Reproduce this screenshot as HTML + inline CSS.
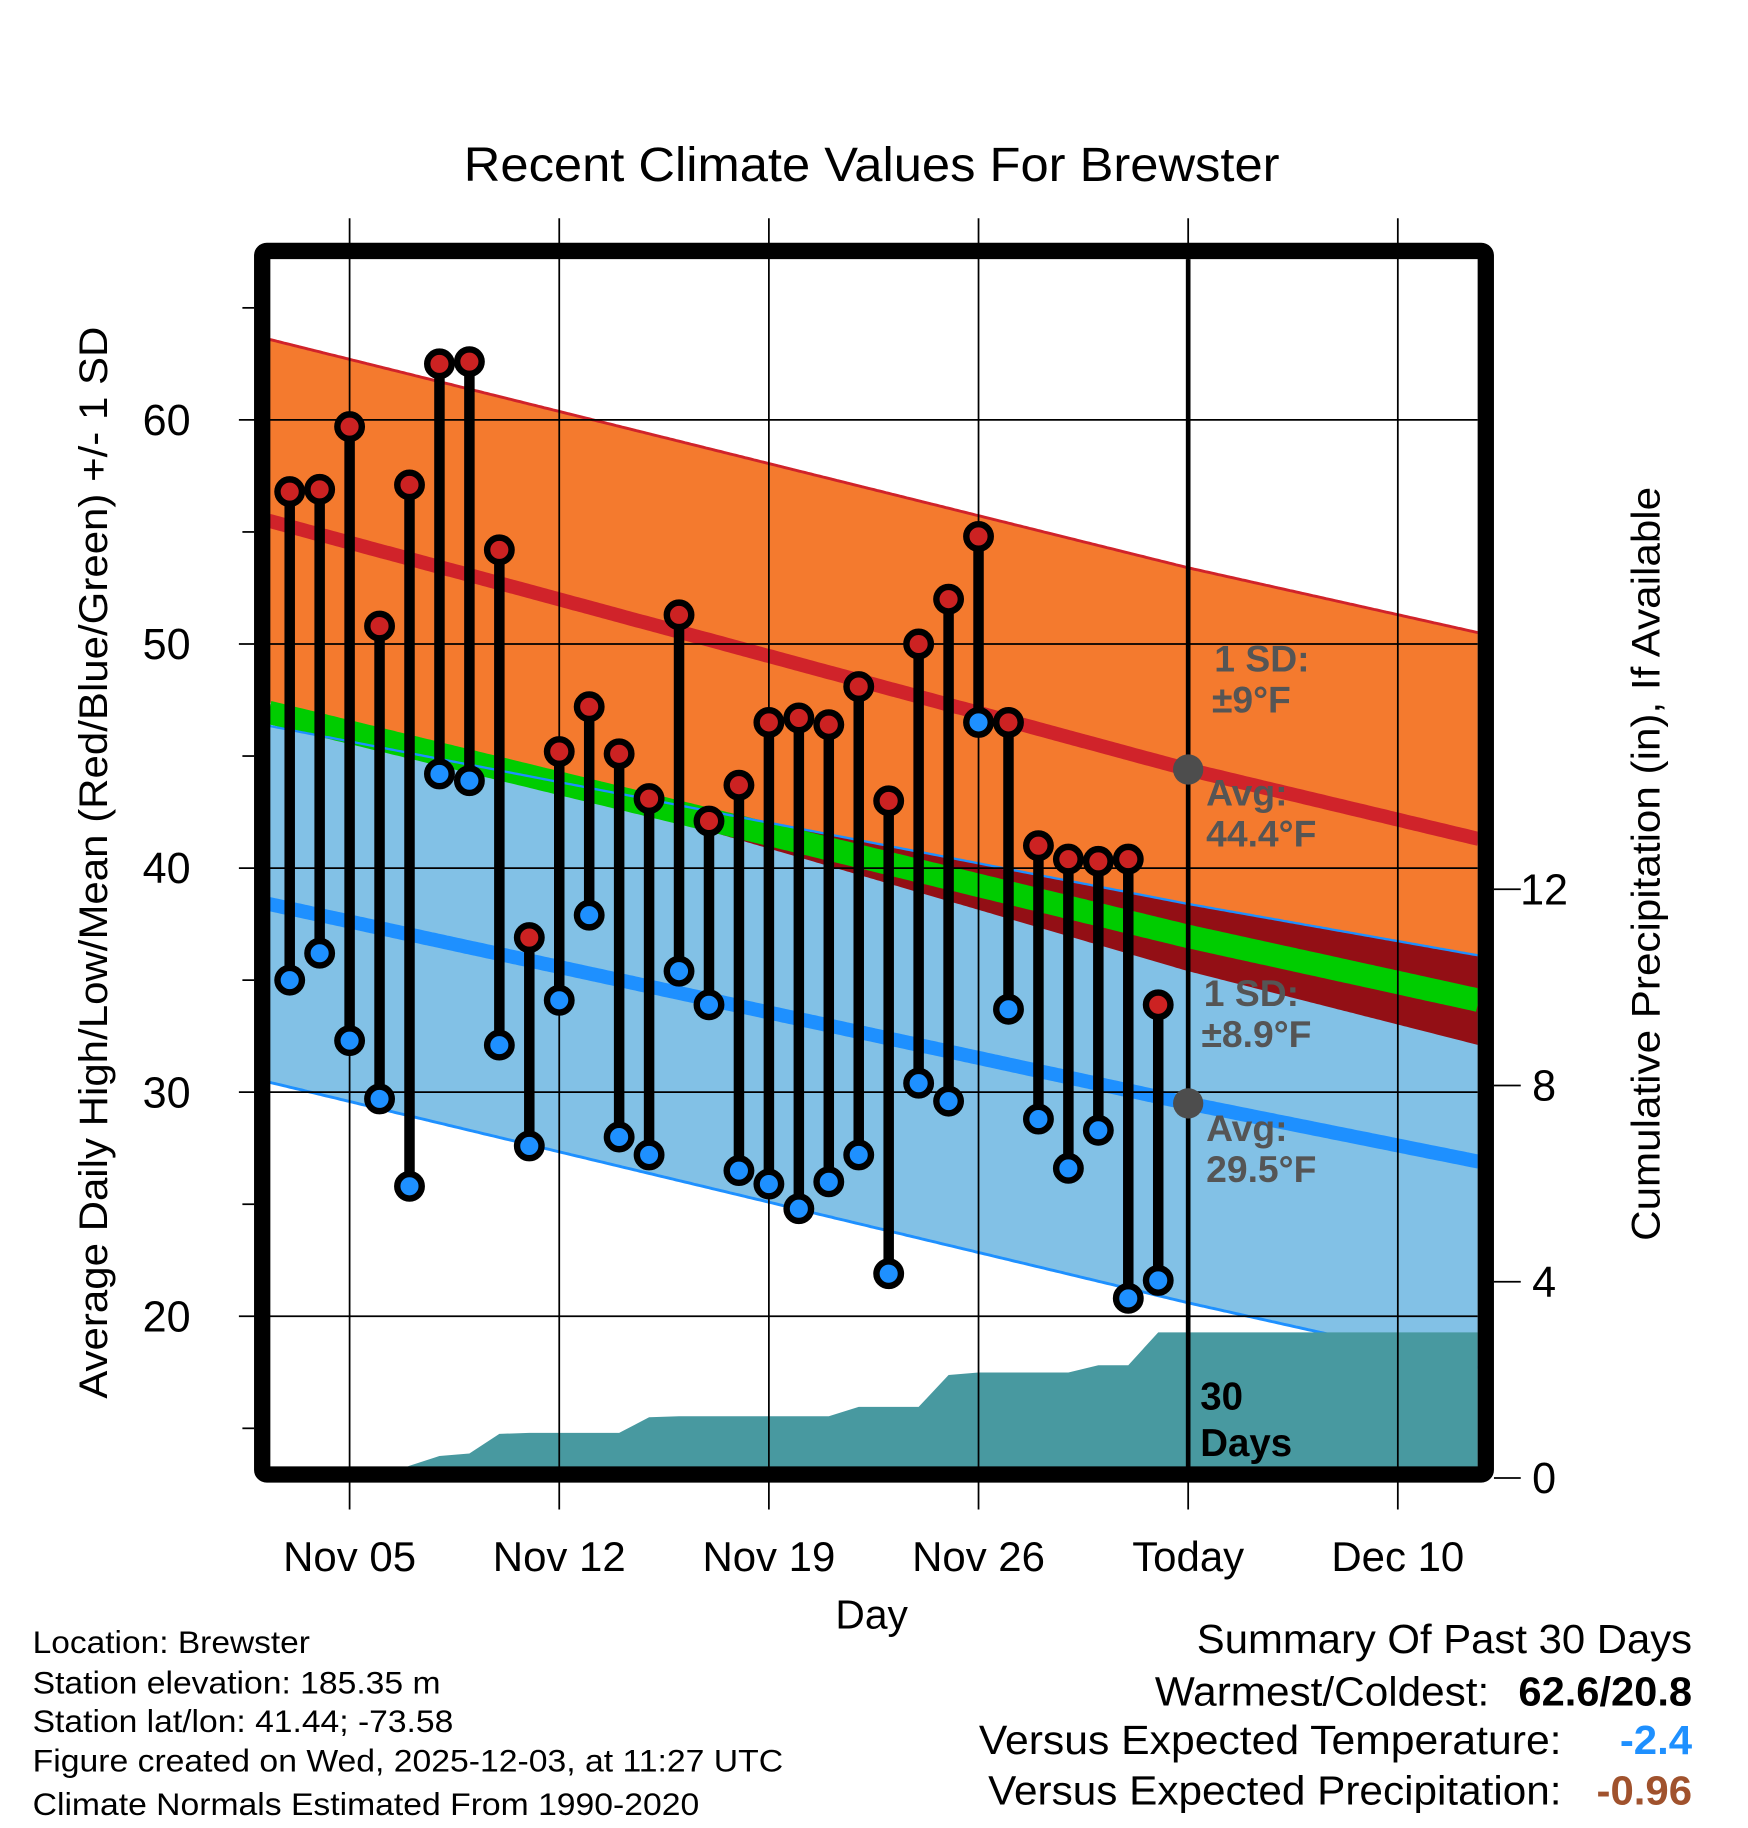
<!DOCTYPE html>
<html><head><meta charset="utf-8">
<style>
html,body{margin:0;padding:0;background:#fff;}
svg{display:block;font-family:"Liberation Sans",Arial,sans-serif;}
</style></head>
<body>
<svg id="chart" width="1748" height="1828" viewBox="0 0 1500 1568" xmlns="http://www.w3.org/2000/svg">
<rect x="0" y="0" width="1500" height="1568" fill="#fff"/>
<text x="748" y="155" font-size="41" text-anchor="middle" textLength="700" lengthAdjust="spacingAndGlyphs">Recent Climate Values For Brewster</text>
<defs><clipPath id="pc"><rect x="231" y="222" width="1037" height="1038"/></clipPath></defs>
<g id="plot" clip-path="url(#pc)"></g>
<g id="over"></g>
<text transform="translate(92,740) rotate(-90)" font-size="34" text-anchor="middle" textLength="920" lengthAdjust="spacingAndGlyphs">Average Daily High/Low/Mean (Red/Blue/Green) +/- 1 SD</text>
<text transform="translate(1424,741) rotate(-90)" font-size="34" text-anchor="middle" textLength="647" lengthAdjust="spacingAndGlyphs">Cumulative Precipitation (in), If Available</text>
<text x="748" y="1397" font-size="35" text-anchor="middle">Day</text>
<g font-size="27">
<text x="28" y="1418" textLength="238" lengthAdjust="spacingAndGlyphs">Location: Brewster</text>
<text x="28" y="1453" textLength="350" lengthAdjust="spacingAndGlyphs">Station elevation: 185.35 m</text>
<text x="28" y="1486" textLength="361" lengthAdjust="spacingAndGlyphs">Station lat/lon: 41.44; -73.58</text>
<text x="28" y="1520" textLength="644" lengthAdjust="spacingAndGlyphs">Figure created on Wed, 2025-12-03, at 11:27 UTC</text>
<text x="28" y="1557" textLength="572" lengthAdjust="spacingAndGlyphs">Climate Normals Estimated From 1990-2020</text>
</g>
<g font-size="35">
<text x="1027" y="1418" textLength="425" lengthAdjust="spacingAndGlyphs">Summary Of Past 30 Days</text>
<text x="991" y="1463" textLength="287" lengthAdjust="spacingAndGlyphs">Warmest/Coldest:</text>
<text x="1303" y="1463" font-weight="bold" textLength="149" lengthAdjust="spacingAndGlyphs">62.6/20.8</text>
<text x="840" y="1505" textLength="500" lengthAdjust="spacingAndGlyphs">Versus Expected Temperature:</text>
<text x="1390" y="1505" font-weight="bold" fill="#1e90ff" textLength="62" lengthAdjust="spacingAndGlyphs">-2.4</text>
<text x="848" y="1548" textLength="492" lengthAdjust="spacingAndGlyphs">Versus Expected Precipitation:</text>
<text x="1370" y="1548" font-weight="bold" fill="#a0522d" textLength="82" lengthAdjust="spacingAndGlyphs">-0.96</text>
</g>
</svg>
<script>
// ---- data ----
const dayLabels = ["Nov 05","Nov 12","Nov 19","Nov 26","Today","Dec 10"];
const tickDays = [4,11,18,25,32,39];
const yTicks = [20,30,40,50,60];
const y2Ticks = [0,4,8,12];
const obsDays = [2,3,4,5,6,7,8,9,10,11,12,13,14,15,16,17,18,19,20,21,22,23,24,25,26,27,28,29,30,31];
const highs = [56.8,56.9,59.7,50.8,57.1,62.5,62.6,54.2,36.9,45.2,47.2,45.1,43.1,51.3,42.1,43.7,46.5,46.7,46.4,48.1,43.0,50.0,52.0,54.8,46.5,41.0,40.4,40.3,40.4,33.9];
const lows = [35.0,36.2,32.3,29.7,25.8,44.2,43.9,32.1,27.6,34.1,37.9,28.0,27.2,35.4,33.9,26.5,25.9,24.8,26.0,27.2,21.9,30.4,29.6,46.5,33.7,28.8,26.6,28.3,20.8,21.6];
const precip = [0,0,0,0,0.25,0.45,0.5,0.9,0.92,0.92,0.92,0.92,1.24,1.26,1.26,1.26,1.26,1.26,1.26,1.45,1.45,1.45,2.1,2.15,2.15,2.15,2.15,2.3,2.3,2.97];
const normDays = [1.3,32,41.7];
const normHigh = [55.5,44.4,41.3];
const sdHigh = [8.1,9.0,9.2];
const normLow = [38.4,29.5,26.9];
const sdLow = [7.95,8.9,9.2];
// ---- scales ----
const X = d => 300 + (d-4)*25.7;
const Y = v => 360 + (60-v)*19.23;
const Y2 = p => 1268 - p*42.1;
const NS = "http://www.w3.org/2000/svg";
function mk(tag, attrs, parent){const e=document.createElementNS(NS,tag);for(const k in attrs)e.setAttribute(k,attrs[k]);parent.appendChild(e);return e;}
const svg=document.getElementById('chart'), plot=document.getElementById('plot'), over=document.getElementById('over');
function interp(arr,d){for(let i=0;i<normDays.length-1;i++){if(d<=normDays[i+1]||i==normDays.length-2){const t=(d-normDays[i])/(normDays[i+1]-normDays[i]);return arr[i]+t*(arr[i+1]-arr[i]);}}}
const samp=[];for(let d=1.3;d<=41.71;d+=0.1)samp.push(d);
const line=(f)=>samp.map(d=>[X(d),Y(f(d))]);
const pts=a=>a.map(p=>p[0].toFixed(1)+','+p[1].toFixed(1)).join(' ');
const hU=d=>interp(normHigh,d)+interp(sdHigh,d), hL=d=>interp(normHigh,d)-interp(sdHigh,d);
const lU=d=>interp(normLow,d)+interp(sdLow,d), lL=d=>interp(normLow,d)-interp(sdLow,d);
let e=mk('polygon',{points:pts(line(hU).concat(line(hL).reverse())),fill:'#f47a2e'},plot);


e=mk('polygon',{points:pts(line(lU).concat(line(lL).reverse())),fill:'#82c1e6'},plot);


const ov=line(d=>Math.max(lU(d),hL(d))).concat(line(hL).reverse());
e=mk('polygon',{points:pts(ov),fill:'#930f15'},plot);


e=mk('polyline',{points:pts(line(d=>(interp(normHigh,d)+interp(normLow,d))/2)),fill:'none',stroke:'#00cc00','stroke-width':20},plot);


mk('polyline',{points:pts(line(hU)),fill:'none',stroke:'#d0232a','stroke-width':2.5},plot);
mk('polyline',{points:pts(line(lU)),fill:'none',stroke:'#1e90ff','stroke-width':2},plot);
mk('polyline',{points:pts(line(lL)),fill:'none',stroke:'#1e90ff','stroke-width':2.5},plot);
e=mk('polyline',{points:pts(line(d=>interp(normHigh,d))),fill:'none',stroke:'#d0232a','stroke-width':12},plot);


e=mk('polyline',{points:pts(line(d=>interp(normLow,d))),fill:'none',stroke:'#1e90ff','stroke-width':12},plot);


let pp=[[X(obsDays[0]),Y2(0)]];
obsDays.forEach((d,i)=>pp.push([X(d),Y2(precip[i])]));
pp.push([1270,Y2(precip[precip.length-1])]);pp.push([1270,1270]);pp.push([X(obsDays[0]),1270]);
e=mk('polygon',{points:pts(pp),fill:'#4899a0'},plot);


yTicks.forEach(v=>{mk('line',{x1:205,x2:1268,y1:Y(v),y2:Y(v),stroke:'#000','stroke-width':1.5},over);
 const t=mk('text',{x:143,y:Y(v)+13,'font-size':37,'text-anchor':'middle'},over);t.textContent=v;
 
 });
[15,25,35,45,55,65].forEach(v=>mk('line',{x1:208,x2:218,y1:Y(v),y2:Y(v),stroke:'#000','stroke-width':1.5},over));
y2Ticks.forEach(p=>{mk('line',{x1:1282,x2:1305,y1:Y2(p),y2:Y2(p),stroke:'#000','stroke-width':1.5},over);
 const t=mk('text',{x:1325,y:Y2(p)+13,'font-size':37,'text-anchor':'middle'},over);t.textContent=p;
 
 });
tickDays.forEach((d,i)=>{mk('line',{x1:X(d),x2:X(d),y1:187,y2:1295,stroke:'#000','stroke-width':1.5},over);
 const t=mk('text',{x:X(d),y:1348,'font-size':36,'text-anchor':'middle'},over);t.textContent=dayLabels[i];
 
 });
e=mk('line',{x1:X(32),x2:X(32),y1:222,y2:1262,stroke:'#000','stroke-width':4},over);


const lab=(x,y,s,fill,sz)=>{const t=mk('text',{x:x,y:y,'font-size':sz||32,'font-weight':'bold',fill:fill||'#555'},over);t.textContent=s;return t;};
lab(1042,576,'1 SD:');lab(1040,611,'±9°F');lab(1035,691,'Avg:');lab(1035,726,'44.4°F');
lab(1033,863,'1 SD:');lab(1031,898,'±8.9°F');lab(1035,979,'Avg:');lab(1035,1014,'29.5°F');
lab(1030,1209,'30','#000',33);lab(1030,1249,'Days','#000',33);
e=mk('circle',{cx:X(32),cy:Y(normHigh[1]),r:13,fill:'#4d4d4d'},over);


e=mk('circle',{cx:X(32),cy:Y(normLow[1]),r:13,fill:'#4d4d4d'},over);


obsDays.forEach((d,i)=>{
 const s=mk('line',{x1:X(d),x2:X(d),y1:Y(highs[i]),y2:Y(lows[i]),stroke:'#000','stroke-width':9},over);
 
 
 const c1=mk('circle',{cx:X(d),cy:Y(highs[i]),r:10.5,fill:'#cc2222',stroke:'#000','stroke-width':5.5},over);
 
 
 const c2=mk('circle',{cx:X(d),cy:Y(lows[i]),r:10.5,fill:'#1e90ff',stroke:'#000','stroke-width':5.5},over);
 
 
});
e=mk('rect',{x:225,y:215,width:1050,height:1050,fill:'none',stroke:'#000','stroke-width':14,rx:4},over);


</script>
</body></html>
